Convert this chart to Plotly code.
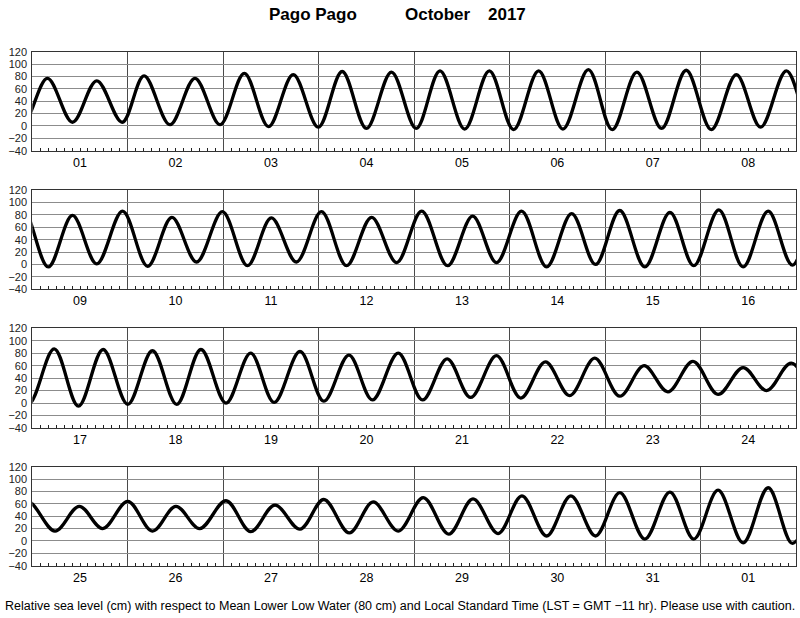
import pandas as pd
import plotly.graph_objects as go
from plotly.subplots import make_subplots

# ---- data: tide extrema (hours since 2017-10-01 00:00 LST, height cm) ----
start_date = "2017-10-01"
panel_days = 8
n_panels = 4

ext_hours = [
    -8.6, -2.4, 3.8, 10.1, 16.2, 22.6, 28.1, 34.6, 40.9, 47.2, 53.3, 59.4, 65.6, 71.9,
    77.9, 84.0, 90.3, 96.5, 102.5, 108.7, 114.9, 121.0, 127.3, 133.4, 139.8, 145.8,
    152.0, 158.2, 164.4, 170.7, 177.0, 183.1, 189.6,
    196.0, 202.1, 208.2, 214.7, 221.0, 227.1, 233.3, 239.8, 246.1, 252.1, 258.4,
    264.7, 271.0, 277.3, 283.6, 289.9, 296.4, 302.7, 308.7, 315.0, 321.3, 327.6,
    333.6, 339.7, 346.0, 352.3, 358.3, 364.6, 370.7, 377.0, 383.1,
    389.5, 395.6, 401.8, 408.0, 414.2, 420.3, 426.4, 432.7, 438.9, 444.8, 451.3,
    457.3, 463.6, 469.5, 476.0, 482.1, 488.3, 494.2, 500.7, 506.8, 513.0, 519.1,
    525.4, 531.7, 537.8, 543.8, 550.1, 556.4, 562.7, 568.6, 574.8,
    581.7, 587.8, 593.7, 600.0, 606.2, 612.1, 618.1, 624.7, 630.9, 637.0, 643.3,
    649.3, 655.7, 661.7, 668.0, 674.3, 680.7, 686.8, 693.1, 699.1, 705.3, 711.4,
    717.6, 723.7, 730.0, 736.3, 742.3, 748.4, 754.7, 761.0, 767.1, 773.2,
]
ext_heights = [
    72, 4, 77, 6, 73, 6, 81, 2, 77, 2, 85, -1, 83, -2,
    88, -4, 87, -4, 89, -5, 89, -6, 89, -5, 91, -6,
    87, -4, 90, -6, 83, -2, 89,
    -4, 79, 1, 86, -3, 76, 4, 85, -2, 75, 4,
    85, -2, 76, 3, 86, -2, 78, 3, 86, -4, 82,
    0, 87, -4, 84, -2, 88, -4, 86, -1,
    87, -5, 86, -2, 84, -2, 86, 0, 80, 1, 83,
    3, 77, 5, 80, 5, 71, 9, 76, 8, 66, 12,
    72, 11, 60, 18, 67, 14, 57, 20, 64,
    16, 56, 20, 64, 16, 56, 20, 65, 15, 58, 19,
    67, 13, 63, 16, 70, 11, 68, 12, 73, 8, 73,
    8, 78, 3, 79, 3, 82, -3, 86, -4, 82,
]

title_place = "Pago Pago"
title_month = "October"
title_year = "2017"
footer = ("Relative sea level (cm) with respect to Mean Lower Low Water (80 cm) "
          "and Local Standard Time (LST = GMT \u221211 hr). Please use with caution.")
y_ticks = [-40, -20, 0, 20, 40, 60, 80, 100, 120]

# ---- build ----
t0 = pd.Timestamp(start_date)
times = [t0 + pd.Timedelta(hours=h) for h in ext_hours]

FONT = "Liberation Sans, Arial, Helvetica, sans-serif"
W, H = 800, 618
x_dom = [32.3 / W, 796 / W]
tops = [51.7, 190.0, 328.3, 466.7]
bots = [150.7, 289.3, 428.0, 565.7]

fig = make_subplots(rows=n_panels, cols=1)
for p in range(n_panels):
    fig.add_trace(go.Scatter(x=times, y=ext_heights, mode="lines",
                             line=dict(color="black", width=3.3, shape="spline", smoothing=1.0),
                             hoverinfo="skip", showlegend=False), row=p + 1, col=1)
    xa = "xaxis" if p == 0 else f"xaxis{p+1}"
    ya = "yaxis" if p == 0 else f"yaxis{p+1}"
    r0 = t0 + pd.Timedelta(days=p * panel_days)
    r1 = t0 + pd.Timedelta(days=(p + 1) * panel_days)
    fig.layout[xa].update(
        domain=x_dom, range=[r0, r1], type="date",
        dtick=86400000, tick0=start_date, tickformat="%d", ticklabelmode="period",
        ticks="", showgrid=True, gridcolor="#4a4a4a", gridwidth=1,
        showline=True, linecolor="#333", linewidth=1, mirror=True,
        tickfont=dict(family=FONT, size=12.5, color="black"),
        minor=dict(dtick=7200000, tick0=start_date, ticks="inside", ticklen=3,
                   tickcolor="#222", tickwidth=1, showgrid=False),
        zeroline=False, automargin=False, fixedrange=True,
    )
    fig.layout[ya].update(
        domain=[1 - bots[p] / H, 1 - tops[p] / H], range=[-40, 120],
        tickvals=y_ticks, ticks="", showgrid=True, gridcolor="#8c8c8c", gridwidth=1,
        showline=True, linecolor="#333", linewidth=1, mirror=True,
        tickfont=dict(family=FONT, size=11, color="#222"), ticklabelstandoff=2,
        zeroline=False, automargin=False, fixedrange=True,
    )

ann = [
    dict(text=title_place, x=312.5 / W, y=1 - 15 / H),
    dict(text=title_month, x=437.5 / W, y=1 - 15 / H),
    dict(text=title_year, x=506.7 / W, y=1 - 15 / H),
]
annotations = []
for a in ann:
    annotations.append(dict(text="<b>" + a["text"] + "</b>", x=a["x"], y=a["y"],
                            xref="paper", yref="paper", xanchor="center", yanchor="middle",
                            showarrow=False, font=dict(family=FONT, size=17, color="black")))
annotations.append(dict(text=footer, x=400 / W, y=1 - 606 / H, xref="paper", yref="paper",
                        xanchor="center", yanchor="middle", showarrow=False,
                        font=dict(family=FONT, size=12.5, color="black")))

fig.update_layout(width=W, height=H, margin=dict(l=0, r=0, t=0, b=0),
                  paper_bgcolor="white", plot_bgcolor="white",
                  annotations=annotations, showlegend=False)
fig.write_html("out.html", config={"displayModeBar": False},
               post_script="document.body.style.margin='0';document.body.style.overflow='hidden';")
